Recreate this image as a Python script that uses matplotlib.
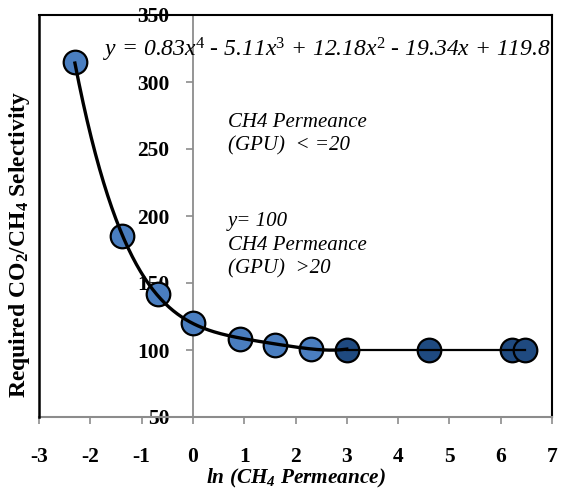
import numpy as np
import matplotlib
matplotlib.use("Agg")
import matplotlib.pyplot as plt
from matplotlib.lines import Line2D

plt.rcParams['font.family'] = ['Liberation Serif', 'DejaVu Serif']
plt.rcParams['mathtext.fontset'] = 'custom'
plt.rcParams['mathtext.rm'] = 'Liberation Serif'
plt.rcParams['mathtext.it'] = 'Liberation Serif:italic'
plt.rcParams['mathtext.bf'] = 'Liberation Serif:bold'
plt.rcParams['mathtext.bfit'] = 'Liberation Serif:italic:bold'
plt.rcParams['axes.unicode_minus'] = False

# Data
x_low = [-2.30, -1.39, -0.69, 0.0, 0.92, 1.61, 2.30]
y_low = [315, 185, 142, 120, 108, 104, 101]
x_high = [3.00, 4.61, 6.22, 6.48]
y_high = [100, 100, 100, 100]
poly_coeffs = [0.83, -5.11, 12.18, -19.34, 119.8]
x_ticks = [-3, -2, -1, 0, 1, 2, 3, 4, 5, 6, 7]
y_ticks = [50, 100, 150, 200, 250, 300, 350]

fig = plt.figure(figsize=(5.62, 4.92), dpi=100)
ax = fig.add_axes([39/562, 1-417/492, (552-39)/562, (417-15)/492])

light = '#4A7EC0'
dark = '#1F4A80'

ax.plot(x_low, y_low, 'o', ms=17, mfc=light, mec='black', mew=1.6, zorder=3, clip_on=False)
ax.plot(x_high, y_high, 'o', ms=17, mfc=dark, mec='black', mew=1.6, zorder=3, clip_on=False)

xc = np.linspace(x_low[0], x_high[0], 200)
ax.plot(xc, np.polyval(poly_coeffs, xc), color='black', lw=2.4, zorder=4)
ax.plot([x_high[0], x_high[-1]], [y_high[0], y_high[-1]], color='black', lw=1.6, zorder=4)

ax.set_xlim(-3, 7)
ax.set_ylim(50, 350)

ax.spines['left'].set_position(('data', 0))
ax.spines['left'].set_color('#8c8c8c')
ax.spines['left'].set_linewidth(1.3)
ax.spines['bottom'].set_color('#8c8c8c')
ax.spines['bottom'].set_linewidth(1.5)
for s in ['top', 'right']:
    ax.spines[s].set_color('black')
    ax.spines[s].set_linewidth(1.5)
ax.add_line(Line2D([0, 0], [0, 1], transform=ax.transAxes, color='black', lw=1.8, clip_on=False, zorder=5))

ax.set_xticks(x_ticks, labels=[str(v) for v in x_ticks], fontweight='bold', fontsize=15.5)
ax.set_yticks(y_ticks, labels=[str(v) for v in y_ticks], fontweight='bold', fontsize=15.5)
ax.tick_params(axis='y', direction='out', length=5, width=1.2, color='#8c8c8c', pad=12)
ax.tick_params(axis='x', direction='out', length=5, width=1.2, color='#8c8c8c', pad=16.5)

ax.set_xlabel(r'ln (CH$_{\mathbfit{4}}$ Permeance)', fontsize=15.3, fontweight='bold', style='italic', labelpad=0)
fig.text(20/562, 1-244/492, r'Required CO$_{\mathbf{2}}$/CH$_{\mathbf{4}}$ Selectivity', rotation=90,
         fontsize=17, fontweight='bold', ha='center', va='center')

ax.text(2.62, 324, r'y = 0.83x$^{\mathit{4}}$ - 5.11x$^{\mathit{3}}$ + 12.18x$^{\mathit{2}}$ - 19.34x + 119.8',
        fontsize=17, style='italic', ha='center', va='center')
ax.text(0.68, 261, 'CH4 Permeance\n(GPU)  < =20', fontsize=15, style='italic', ha='left', va='center', linespacing=1.34)
ax.text(0.68, 178, 'y= 100\nCH4 Permeance\n(GPU)  >20', fontsize=15, style='italic', ha='left', va='center', linespacing=1.34)

fig.savefig('out.png', dpi=100)
